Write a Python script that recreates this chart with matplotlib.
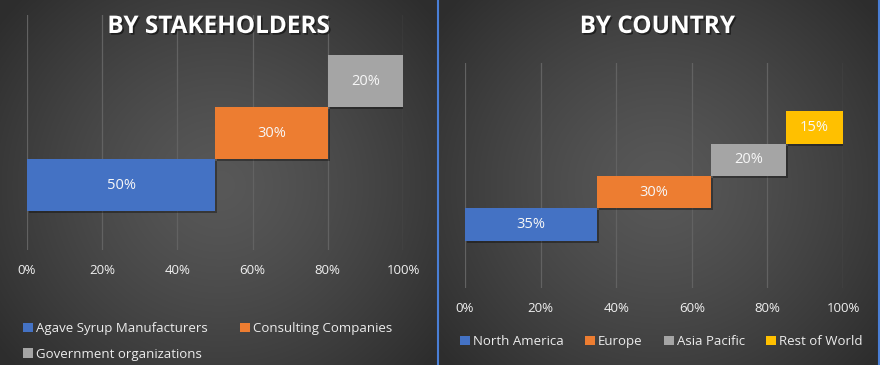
import numpy as np
import matplotlib
matplotlib.use("Agg")
import matplotlib.pyplot as plt
import matplotlib.patheffects as pe
from matplotlib.patches import Patch

plt.rcParams['font.family'] = ['Open Sans', 'DejaVu Sans']

# ---- data ----
stake_labels = ["Agave Syrup Manufacturers", "Consulting Companies", "Government organizations"]
stake_values = [50, 30, 20]
country_labels = ["North America", "Europe", "Asia Pacific", "Rest of World"]
country_values = [35, 30, 20, 15]
x_ticks = [0, 20, 40, 60, 80, 100]
x_tick_labels = ["0%", "20%", "40%", "60%", "80%", "100%"]
title_left = "BY STAKEHOLDERS"
title_right = "BY COUNTRY"

colors = ["#4472C4", "#ED7D31", "#A5A5A5", "#FFC000"]

W, H = 880, 365
fig = plt.figure(figsize=(W / 100, H / 100), dpi=100)

# ---- background radial gradients ----
bg = fig.add_axes([0, 0, 1, 1], zorder=-10)
yy, xx = np.mgrid[0:H, 0:W].astype(float)
img = np.zeros((H, W))
c_in, c_out = 0x58 / 255, 0x2d / 255
for (x0, x1) in [(0, 438), (438, 880)]:
    cx = (x0 + x1) / 2
    cy = 185
    r = np.sqrt(((xx - cx) / ((x1 - x0) * 0.64)) ** 2 + ((yy - cy) / 270) ** 2)
    t = np.clip(r, 0, 1) ** 1.3
    val = c_in + (c_out - c_in) * t
    mask = (xx >= x0) & (xx < x1)
    img[mask] = val[mask]
bg.imshow(np.dstack([img, img, img]), extent=[0, W, H, 0], aspect='auto', interpolation='bilinear')
bg.set_xlim(0, W)
bg.set_ylim(H, 0)
bg.axis('off')
bg.plot([438, 438], [0, H], color="#4a7fd6", lw=1.5)
bg.plot([878.5, 878.5], [0, H], color="#4a7fd6", lw=1.5)


def panel(rect, ylim, labels, values, title, title_x, legend_cfg):
    ax = fig.add_axes(rect)
    ax.set_facecolor("none")
    starts = np.concatenate([[0], np.cumsum(values)[:-1]])
    ypos = np.arange(len(values))
    handles = []
    for i, (lab, v, s) in enumerate(zip(labels, values, starts)):
        b = ax.barh(ypos[i], v, left=s, height=1.0, color=colors[i], zorder=3, label=lab)
        for p in b.patches:
            p.set_path_effects([pe.SimplePatchShadow(offset=(1.5, -1.5), shadow_rgbFace="black", alpha=0.35), pe.Normal()])
        ax.text(s + v / 2, ypos[i], f"{v}%", ha="center", va="center", color="#f7f7f7", fontsize=10.5, zorder=4)
        handles.append(Patch(facecolor=colors[i], label=lab))
    ax.set_xlim(0, 100)
    ax.set_ylim(*ylim)
    ax.set_xticks(x_ticks)
    ax.set_xticklabels(x_tick_labels, color="#f0f0f0", fontsize=9.5)
    ax.set_yticks([])
    ax.tick_params(axis='x', length=0, pad=10)
    for sp in ax.spines.values():
        sp.set_visible(False)
    ax.grid(axis='x', color="#626262", lw=0.9, zorder=0)
    fig.text(title_x / W, 1 - 27 / H, title, ha="center", va="center", color="white",
             fontsize=17.5, fontweight="bold",
             path_effects=[pe.withSimplePatchShadow(offset=(1.2, -1.2), shadow_rgbFace="black", alpha=0.5)])
    order, ncol, anchor, colsp = legend_cfg
    fig.legend([handles[k] for k in order], [labels[k] for k in order], ncol=ncol,
               loc="upper left", bbox_to_anchor=anchor, frameon=False,
               fontsize=9.5, labelcolor="#ececec", handlelength=0.75, handleheight=0.75,
               handletextpad=0.2, columnspacing=colsp, borderaxespad=0, borderpad=0,
               labelspacing=0.98)
    return ax


panel([27 / W, 115 / H, 376 / W, 235 / H], (-1.25, 3.27), stake_labels, stake_values,
      title_left, 218, ([0, 2, 1], 2, (23 / W, 1 - 322 / H), 2.5))
panel([465 / W, 77 / H, 378 / W, 225 / H], (-1.97, 5.0), country_labels, country_values,
      title_right, 657, ([0, 1, 2, 3], 4, (460 / W, 1 - 335 / H), 1.65))

fig.savefig("out.png", dpi=100)
